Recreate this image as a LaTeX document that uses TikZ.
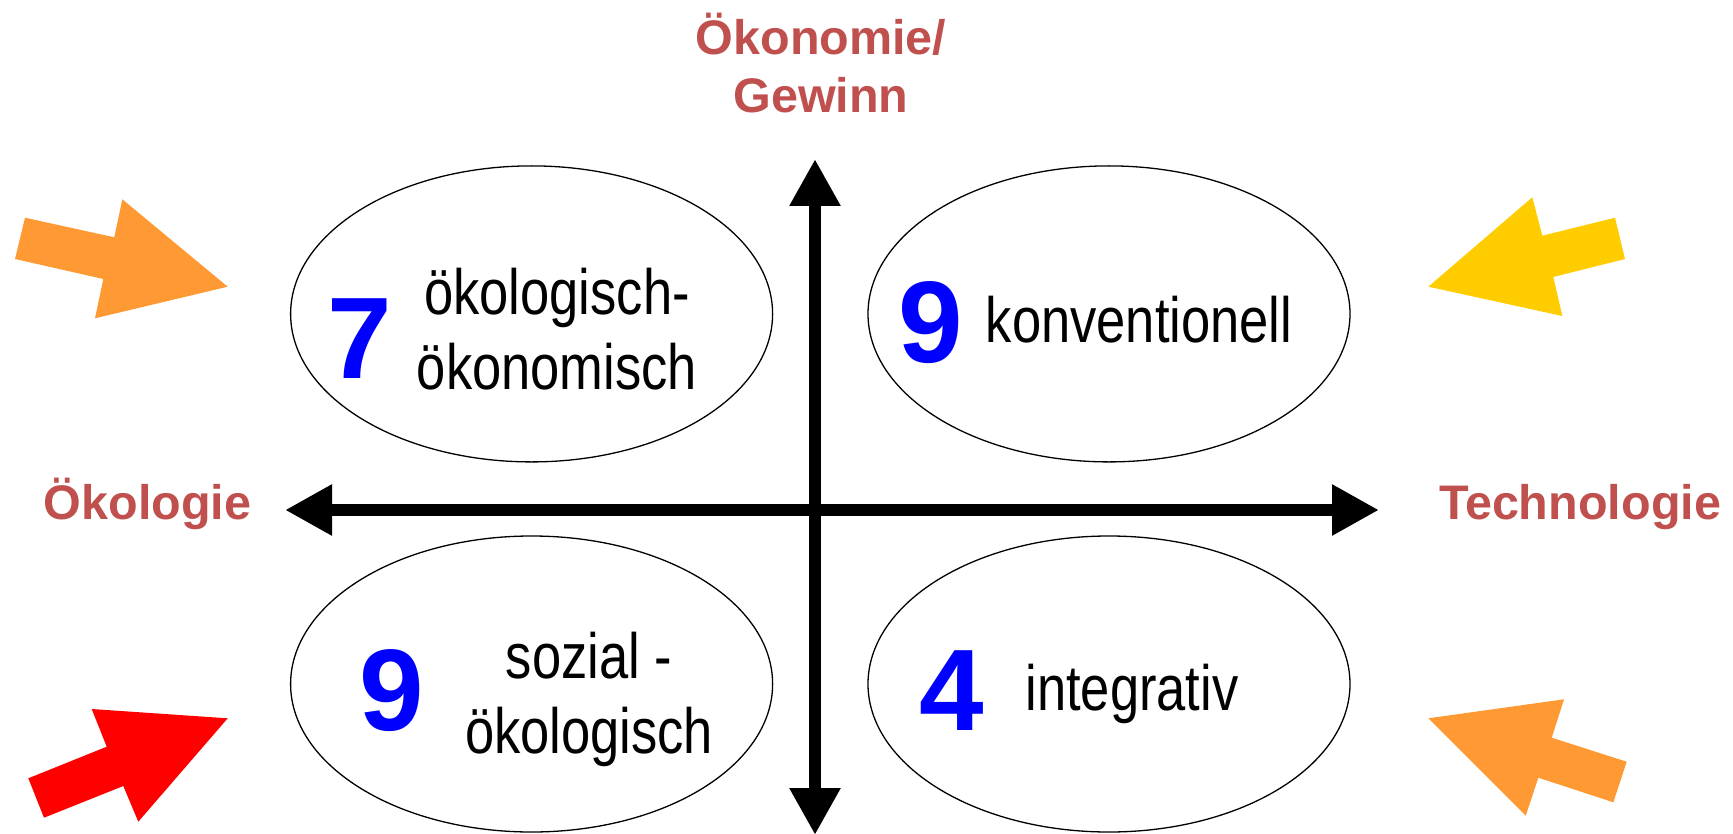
\documentclass[tikz,border=0pt]{standalone}
\usepackage{fontspec}
\setmainfont{Liberation Sans}
\newfontfamily\condfont[FakeStretch=0.82]{Liberation Sans}
\usetikzlibrary{shapes.geometric,arrows.meta}
\definecolor{labred}{HTML}{C0504D}
\definecolor{arrorange}{HTML}{FF9933}
\definecolor{arryellow}{HTML}{FFCC00}
\definecolor{arrred}{HTML}{FF0000}
\definecolor{numblue}{HTML}{0000FF}
\tikzset{
  quad/.style={ellipse, draw=black, line width=0.65pt, inner sep=0pt,
    minimum width=241pt, minimum height=148pt},
  axis/.style={line width=6pt, {Triangle[length=23.5pt,width=24pt]}-{Triangle[length=23.5pt,width=24pt]}},
  num/.style={anchor=base, inner sep=0pt, text=numblue, font=\fontsize{58}{60}\selectfont\bfseries},
  txt/.style={anchor=base, inner sep=0pt, font=\condfont\fontsize{32}{37.5}\selectfont},
  lab/.style={anchor=base, inner sep=0pt, text=labred, font=\fontsize{24.25}{29.2}\selectfont\bfseries},
}
\begin{document}
\begin{tikzpicture}[x=0.5pt,y=-0.5pt]
\useasboundingbox (0,0) rectangle (1733,834);
% quadrant ellipses
\node[quad] (q1) at (531.6,313.9) {};
\node[quad] (q2) at (1109,313.9) {};
\node[quad] (q3) at (531.6,684) {};
\node[quad] (q4) at (1109,684) {};
% axes
\coordinate (L) at (285,510);
\coordinate (R) at (1379,510);
\coordinate (T) at (815,159);
\coordinate (B) at (815,835);
\draw[axis] (L) -- (R);
\draw[axis] (B) -- (T);
% numbers
\node[num] (n1) at (359.5,378) {7};
\node[num] (n2) at (931,362) {9};
\node[num] (n3) at (392,730) {9};
\node[num] (n4) at (952,730) {4};
% quadrant texts
\node[txt] (t1) at (557,314) {\begin{tabular}[t]{@{}c@{}}ökologisch-\\ökonomisch\end{tabular}};
\node[txt] (t2) at (1139,342) {konventionell};
\node[txt] (t3) at (589,678) {\begin{tabular}[t]{@{}c@{}}sozial -\\ökologisch\end{tabular}};
\node[txt] (t4) at (1132,710) {integrativ};
% axis labels
\node[lab] (top) at (821,54.3) {\begin{tabular}[t]{@{}c@{}}Ökonomie/\\Gewinn\end{tabular}};
\node[lab] (left) at (147.5,519) {Ökologie};
\node[lab] (right) at (1580,519) {Technologie};
% block arrows
\fill[arrorange] (25,217.7) -- (114.3,237.3) -- (122.3,199.3) -- (227.7,286.7) -- (95,318.3) -- (103.3,279) -- (15,259) -- cycle;
\fill[arryellow] (1615,217.7) -- (1542.3,235.7) -- (1532.3,197.3) -- (1428.3,286.7) -- (1562.3,316) -- (1553.3,277) -- (1625,259) -- cycle;
\fill[arrred] (28.3,778.3) -- (106.7,746.7) -- (91.7,709) -- (227.7,718.3) -- (138.3,821.7) -- (123.3,786) -- (44,817.7) -- cycle;
\fill[arrorange] (1626.7,761.7) -- (1551.7,737.7) -- (1564,699.3) -- (1428.3,718.3) -- (1525.7,815.7) -- (1538.3,777.7) -- (1613.3,802.3) -- cycle;
\end{tikzpicture}
\end{document}
